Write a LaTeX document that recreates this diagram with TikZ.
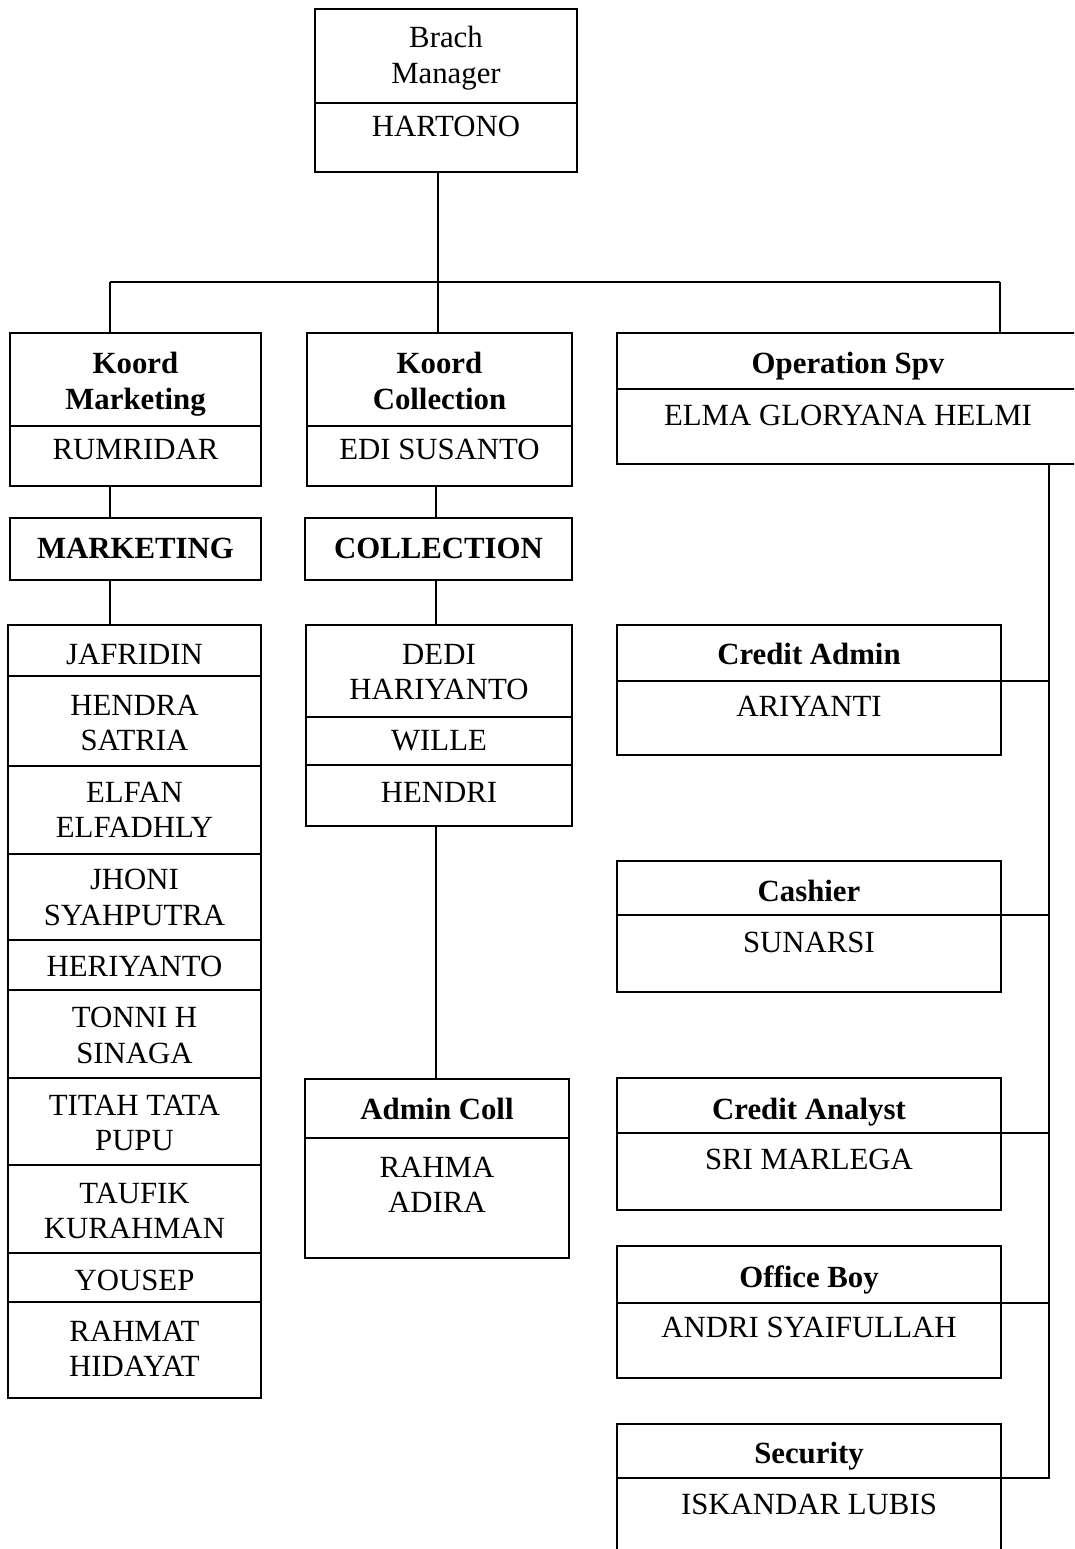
\documentclass[tikz,border=0pt]{standalone}
\usepackage{fontspec}
\setmainfont{Liberation Serif}
\begin{document}
\begin{tikzpicture}[x=1pt,y=-1pt,
  box/.style={draw, line width=1.4pt, rectangle, anchor=north west, inner sep=0pt, outer sep=0pt},
  lbl/.style={inner sep=0pt, align=center, font=\fontsize{30.8}{35.5}\selectfont},
  hdr/.style={lbl, font=\fontsize{30.8}{35.5}\selectfont\bfseries},
  conn/.style={line width=1.4pt},
  dv/.style={line width=1.4pt}]
\useasboundingbox (0,0) rectangle (1074,1549);
\clip (0,0) rectangle (1074,1549);
\fill[white] (0,0) rectangle (1074,1549);

% boxes
\node[box, minimum width=262pt, minimum height=163pt] (top) at (315,9) {};
\node[box, minimum width=251pt, minimum height=153pt] (km) at (10,333) {};
\node[box, minimum width=265pt, minimum height=153pt] (kc) at (307,333) {};
\node[box, minimum width=463pt, minimum height=131pt] (ops) at (617,333) {};
\node[box, minimum width=251pt, minimum height=62pt] (mkt) at (10,518) {};
\node[box, minimum width=267pt, minimum height=62pt] (col) at (305,518) {};
\node[box, minimum width=253pt, minimum height=773pt] (mlist) at (8,625) {};
\node[box, minimum width=266pt, minimum height=201pt] (clist) at (306,625) {};
\node[box, minimum width=264pt, minimum height=179pt] (adm) at (305,1079) {};
\node[box, minimum width=384pt, minimum height=130pt] (ca) at (617,625) {};
\node[box, minimum width=384pt, minimum height=131pt] (cash) at (617,861) {};
\node[box, minimum width=384pt, minimum height=132pt] (can) at (617,1078) {};
\node[box, minimum width=384pt, minimum height=132pt] (ob) at (617,1246) {};
\node[box, minimum width=384pt, minimum height=176pt] (sec) at (617,1424) {};

% dividers
\draw[dv] (315,103) -- (577,103);
\draw[dv] (10,426) -- (261,426);
\draw[dv] (307,426) -- (572,426);
\draw[dv] (617,389) -- (1080,389);
\foreach \yy in {676,766,854,940,990,1078,1165,1253,1302} \draw[dv] (8,\yy) -- (261,\yy);
\draw[dv] (306,717) -- (572,717);
\draw[dv] (306,765) -- (572,765);
\draw[dv] (305,1138) -- (569,1138);
\coordinate (caD) at (1001,681);
\coordinate (cashD) at (1001,915);
\coordinate (canD) at (1001,1133);
\coordinate (obD) at (1001,1303);
\coordinate (secD) at (1001,1478);
\draw[dv] (617,681) -- (caD);
\draw[dv] (617,915) -- (cashD);
\draw[dv] (617,1133) -- (canD);
\draw[dv] (617,1303) -- (obD);
\draw[dv] (617,1478) -- (secD);

% texts
\node[lbl] (tTop) at (446,58) {Brach\\Manager};
\node[lbl] (tHar) at (446,126) {HARTONO};
\node[hdr] (tKm) at (135.5,384) {Koord\\Marketing};
\node[lbl] (tRum) at (135.5,449) {RUMRIDAR};
\node[hdr] (tKc) at (439.5,381) {Koord\\Collection};
\node[lbl] (tEdi) at (439.5,449) {EDI SUSANTO};
\node[hdr] (tOps) at (848,366) {Operation Spv};
\node[lbl] (tElma) at (848,415) {ELMA GLORYANA HELMI};
\node[hdr] (tMkt) at (135.5,548) {MARKETING};
\node[hdr] (tCol) at (438.5,548) {COLLECTION};

\node[lbl] (m1) at (134.5,654) {JAFRIDIN};
\node[lbl] (m2) at (134.5,723) {HENDRA\\SATRIA};
\node[lbl] (m3) at (134.5,810) {ELFAN\\ELFADHLY};
\node[lbl] (m4) at (134.5,897.5) {JHONI\\SYAHPUTRA};
\node[lbl] (m5) at (134.5,966) {HERIYANTO};
\node[lbl] (m6) at (134.5,1035.5) {TONNI H\\SINAGA};
\node[lbl] (m7) at (134.5,1123) {TITAH TATA\\PUPU};
\node[lbl] (m8) at (134.5,1211) {TAUFIK\\KURAHMAN};
\node[lbl] (m9) at (134.5,1280) {YOUSEP};
\node[lbl] (m10) at (134.5,1349) {RAHMAT\\HIDAYAT};

\node[lbl] (c1) at (439,672) {DEDI\\HARIYANTO};
\node[lbl] (c2) at (439,741) {WILLE};
\node[lbl] (c3) at (439,792) {HENDRI};

\node[hdr] (tAdm) at (437,1109) {Admin Coll};
\node[lbl] (tRah) at (437,1185) {RAHMA\\ADIRA};

\node[hdr] (tCa) at (809,654) {Credit Admin};
\node[lbl] (tAri) at (809,706) {ARIYANTI};
\node[hdr] (tCash) at (809,891) {Cashier};
\node[lbl] (tSun) at (809,942) {SUNARSI};
\node[hdr] (tCan) at (809,1112) {Credit Analyst};
\node[lbl] (tSri) at (809,1159) {SRI MARLEGA};
\node[hdr] (tOb) at (809,1280) {Office Boy};
\node[lbl] (tAnd) at (809,1327) {ANDRI SYAIFULLAH};
\node[hdr] (tSec) at (809,1456) {Security};
\node[lbl] (tIsk) at (809,1504) {ISKANDAR LUBIS};

% connectors
\coordinate (busL) at (110,282);
\coordinate (busM) at (438,282);
\coordinate (busR) at (1000,282);
\coordinate (cx) at (436,0);
\coordinate (rb) at (1049,0);
\draw[conn] (busL) -- (busR);
\draw[conn] (top.south -| busM) -- (busM) -- (kc.north -| busM);
\draw[conn] (busL) -- (km.north -| busL);
\draw[conn] (busR) -- (ops.north -| busR);
\draw[conn] (km.south -| busL) -- (mkt.north -| busL);
\draw[conn] (mkt.south -| busL) -- (mlist.north -| busL);
\draw[conn] (kc.south -| cx) -- (col.north -| cx);
\draw[conn] (col.south -| cx) -- (clist.north -| cx);
\draw[conn] (clist.south -| cx) -- (adm.north -| cx);
\draw[conn] (ops.south -| rb) -- (secD -| rb) -- (secD);
\draw[conn] (caD) -- (caD -| rb);
\draw[conn] (cashD) -- (cashD -| rb);
\draw[conn] (canD) -- (canD -| rb);
\draw[conn] (obD) -- (obD -| rb);
\end{tikzpicture}
\end{document}
